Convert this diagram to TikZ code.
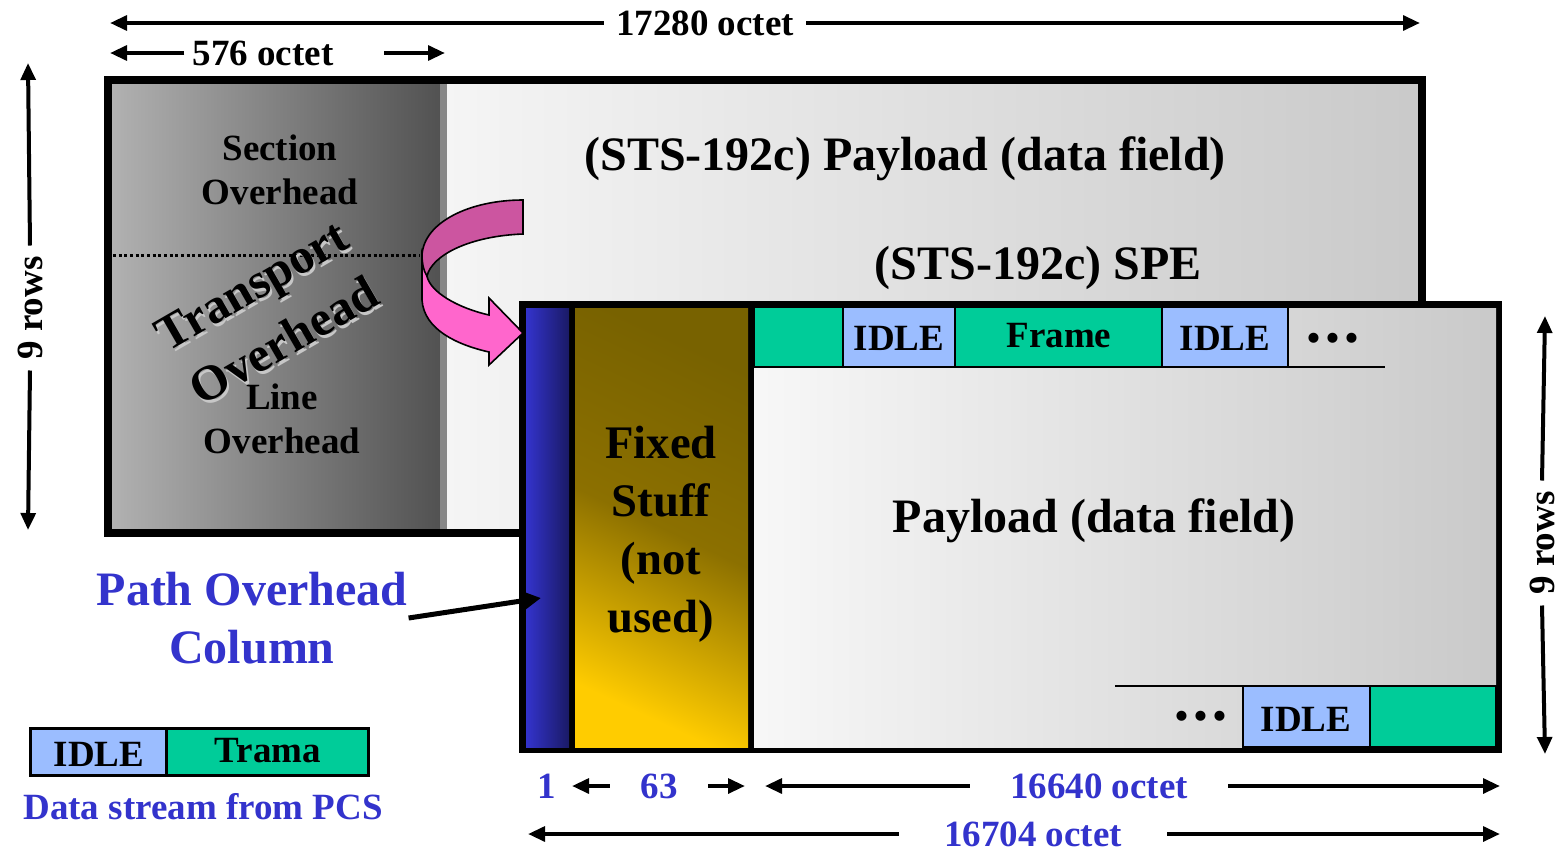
\documentclass[tikz,border=0pt]{standalone}
\usepackage{amsmath}
\usepackage{xcolor}
\usepackage{tikz}
\usepackage{fontspec}
\setmainfont{Liberation Serif}
\usetikzlibrary{arrows.meta}

\definecolor{pathblue}{RGB}{51,51,204}
\definecolor{bluedark}{RGB}{26,26,102}
\definecolor{idleblue}{RGB}{155,189,255}
\definecolor{framegreen}{RGB}{0,204,153}
\definecolor{pinkdark}{RGB}{204,85,160}
\definecolor{pinklight}{RGB}{255,102,204}
\definecolor{ohlight}{RGB}{178,178,178}
\definecolor{ohdark}{RGB}{82,82,82}
\definecolor{goldlight}{RGB}{255,204,0}
\definecolor{goldmid}{RGB}{140,112,0}
\definecolor{golddark}{RGB}{120,98,0}

\tikzset{
  txt/.style={inner sep=0.75pt, align=center, font=\bfseries\fontsize{27.75}{33}\selectfont},
  bigtxt/.style={inner sep=0.75pt, align=center, font=\bfseries\fontsize{36}{43.5}\selectfont},
  dimline/.style={line width=3pt, -{Triangle[length=12.75pt,width=11pt]}},
  cellbox/.style={line width=1.5pt},
}

\begin{document}
\begin{tikzpicture}[x=0.75pt,y=0.75pt,yscale=-1,xscale=1]
\useasboundingbox (0,0) rectangle (1558,853);

\fill[left color=ohlight, right color=ohdark] (108,80) rectangle (440,533);
\fill[black!47] (440,80) rectangle (447,533);
\fill[left color=black!4, right color=black!21] (447,80) rectangle (1422,533);
\draw[line width=6pt] (108,80) rectangle (1422,533);
\draw[line width=2.25pt, dotted] (113,255) -- (420,255);

\draw (280,170) node [txt] (secoh) {Section\\Overhead};
\draw (282,419) node [txt] (lineoh) {Line\\Overhead};
\draw (270,316) node [inner sep=0.75pt, align=center, rotate=30, text=black!22, font=\bfseries\fontsize{37}{48}\selectfont] (tohshadow) {Transport\\Overhead};
\draw (268,313) node [inner sep=0.75pt, align=center, rotate=30, font=\bfseries\fontsize{37}{48}\selectfont] (toh) {Transport\\Overhead};
\draw (905,159) node [bigtxt] (payhead) {(STS-192c) Payload (data field)};
\draw (1038,268) node [bigtxt] (spe) {(STS-192c) SPE};

\fill (519,301) rectangle (1502,753);
\fill[left color=black!3, right color=black!21] (754,308) rectangle (1496,747);
\fill[left color=pathblue, right color=bluedark] (526,308) rectangle (569,747);
\fill[top color=golddark, bottom color=goldlight, middle color=goldmid, shading angle=-25] (575,308) rectangle (748,747);

\draw[cellbox, fill=framegreen] (754,307) rectangle (843,367);
\draw[cellbox, fill=idleblue] (843,307) rectangle (955,367);
\draw[cellbox, fill=framegreen] (955,307) rectangle (1162,367);
\draw[cellbox, fill=idleblue] (1162,307) rectangle (1288,367);
\draw[cellbox] (1288,367) -- (1385,367);
\draw (899,338) node [txt] (idle1) {IDLE};
\draw (1059,336) node [txt] (frame1) {Frame};
\draw (1225,338) node [txt] (idle2) {IDLE};
\draw (1333,342) node [txt] (dots1) {•\,•\,•};

\draw[cellbox] (1115,686) -- (1496,686);
\draw[cellbox, fill=idleblue] (1243,686) rectangle (1370,747);
\draw[cellbox, fill=framegreen] (1370,686) rectangle (1496,747);
\draw (1201,720) node [txt] (dots2) {•\,•\,•};
\draw (1306,719) node [txt] (idle3) {IDLE};

\draw (661,534) node [inner sep=0.75pt, align=center, font=\bfseries\fontsize{35}{43.5}\selectfont] (fixed) {Fixed\\Stuff\\(not\\used)};
\draw (1094,521) node [bigtxt] (payload) {Payload (data field)};

\draw[line width=1.2pt, fill=pinklight] (422,255) -- (422,300) .. controls (424,330) and (458,345) .. (489,352) -- (489,365) -- (523,333) -- (489,298) -- (489,315) .. controls (458,308) and (430,292) .. (427,276) -- cycle;
\draw[line width=1.2pt, fill=pinkdark] (523,200) -- (523,234) .. controls (470,236) and (432,255) .. (427,276) .. controls (423,270) and (422,262) .. (422,255) .. controls (424,222) and (470,200) .. (523,200) -- cycle;

\draw (252,618) node [bigtxt, text=pathblue] (poh) {Path Overhead\\Column};
\coordinate (pohtip) at (541,598);
\draw[line width=3.75pt, -{Triangle[length=13pt,width=13pt]}] (poh.east) -- (pohtip);

\draw[line width=2.25pt, fill=idleblue] (30,728) rectangle (166,775);
\draw[line width=2.25pt, fill=framegreen] (166,728) rectangle (368,775);
\draw (99,754) node [txt] (idleleg) {IDLE};
\draw (268,751) node [txt] (trama) {Trama};
\draw (203,807) node [txt, text=pathblue] (dspcs) {Data stream from PCS};

\draw (705,23) node [txt, inner xsep=9pt] (n17280) {17280 octet};
\coordinate (d17280l) at (110,23);
\coordinate (d17280r) at (1420,23);
\draw[dimline] (n17280.west) -- (d17280l);
\draw[dimline] (n17280.east) -- (d17280r);

\draw (263,53) node [txt, inner xsep=6pt] (n576) {576 octet};
\coordinate (d576l) at (110,53);
\coordinate (d576r) at (445,53);
\draw[dimline] (n576.west) -- (d576l);
\draw[dimline] ([xshift=32pt]n576.east) -- (d576r);

\draw (30,308) node [txt, rotate=90, inner xsep=8pt] (rowsl) {9 rows};
\coordinate (rl1) at (28,63);
\coordinate (rl2) at (28,530);
\draw[dimline] (rowsl.east) -- (rl1);
\draw[dimline] (rowsl.west) -- (rl2);

\draw (1542,543) node [txt, rotate=90, inner xsep=8pt] (rowsr) {9 rows};
\coordinate (rr1) at (1545,316);
\coordinate (rr2) at (1545,754);
\draw[dimline] (rowsr.east) -- (rr1);
\draw[dimline] (rowsr.west) -- (rr2);

\draw (547,786) node [txt, text=pathblue] (n1) {1};
\draw (659,786) node [txt, text=pathblue, inner xsep=23pt] (n63) {63};
\coordinate (d63l) at (572,786);
\coordinate (d63r) at (745,786);
\draw[dimline] (n63.west) -- (d63l);
\draw[dimline] (n63.east) -- (d63r);

\draw (1099,786) node [txt, text=pathblue, inner xsep=30pt] (n16640) {16640 octet};
\coordinate (d16640l) at (765,786);
\coordinate (d16640r) at (1500,786);
\draw[dimline] (n16640.west) -- (d16640l);
\draw[dimline] (n16640.east) -- (d16640r);

\draw (1033,834) node [txt, text=pathblue, inner xsep=34pt] (n16704) {16704 octet};
\coordinate (d16704l) at (528,834);
\coordinate (d16704r) at (1500,834);
\draw[dimline] (n16704.west) -- (d16704l);
\draw[dimline] (n16704.east) -- (d16704r);
\end{tikzpicture}
\end{document}
